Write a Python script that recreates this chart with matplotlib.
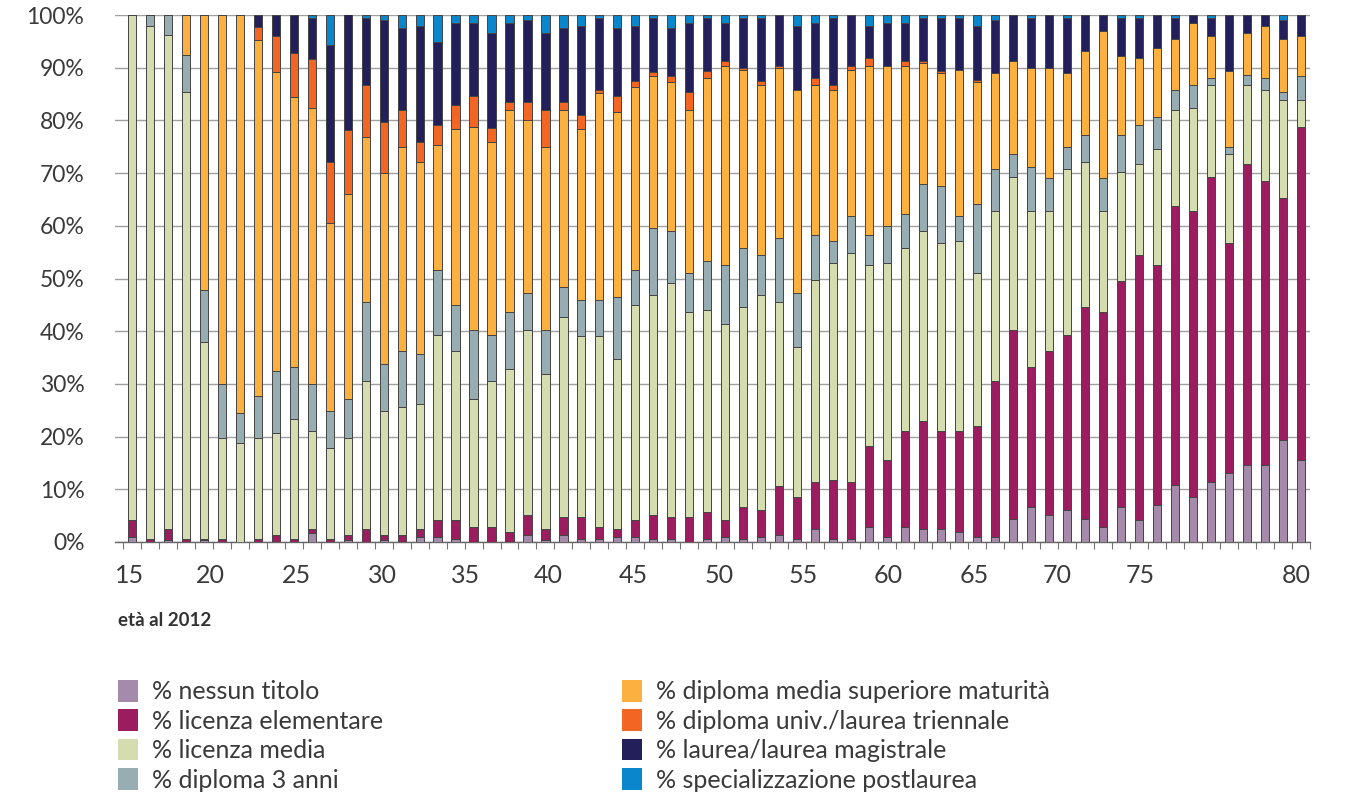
import matplotlib
matplotlib.use("Agg")
import matplotlib.pyplot as plt
from matplotlib.patches import Patch
import numpy as np

plt.rcParams['font.family'] = ['Lato', 'DejaVu Sans']

ages = list(range(15, 81))

nessun = [1.0, 0, 0.3, 0, 0.3, 0, 0, 0, 0, 0,
          1.8, 0, 0.3, 0, 0.3, 0, 1.0, 1.0, 0.5, 0,
          0, 0, 1.4, 0.3, 1.4, 0.5, 0.5, 1.0, 1.0, 0.5,
          0.5, 0, 0.5, 1.0, 0.5, 1.0, 1.3, 0.5, 2.4, 0.5,
          0.5, 2.9, 1.0, 2.9, 2.4, 2.4, 1.9, 1.0, 1.0, 4.3,
          6.6, 5.2, 6.0, 4.3, 2.9, 6.6, 4.2, 7.0, 10.8, 8.5,
          11.3, 13.1, 14.6, 14.6, 19.3, 15.5]
elementare = [3.2, 0.5, 2.1, 0.5, 0.2, 0.5, 0, 0.5, 1.4, 0.5,
              0.6, 0.5, 1.1, 2.4, 1.1, 1.4, 1.4, 3.2, 3.7, 2.9,
              2.9, 1.9, 3.8, 2.1, 3.3, 4.2, 2.4, 1.4, 3.2, 4.7,
              4.2, 4.7, 5.1, 3.2, 6.1, 5.0, 9.3, 8.0, 8.9, 11.2,
              10.8, 15.4, 14.5, 18.2, 20.6, 18.7, 19.2, 21.1, 29.5, 36.0,
              26.6, 31.0, 33.3, 40.2, 40.7, 43.0, 50.2, 45.6, 52.9, 54.3,
              58.0, 43.6, 57.1, 53.9, 45.9, 63.2]
media = [95.8, 97.5, 93.8, 84.9, 37.5, 19.2, 18.8, 19.2, 19.3, 22.9,
         18.6, 17.3, 18.3, 28.1, 23.5, 24.3, 23.8, 35.1, 32.0, 24.3,
         27.6, 30.9, 35.1, 29.4, 37.9, 34.3, 36.1, 32.4, 40.8, 41.7,
         44.5, 38.9, 38.5, 37.1, 37.9, 40.9, 34.9, 28.5, 38.5, 41.2,
         43.5, 34.3, 37.4, 34.6, 36.0, 35.6, 36.1, 29.0, 32.3, 29.0,
         29.6, 26.6, 31.5, 27.6, 19.2, 20.6, 17.3, 22.0, 18.3, 19.6,
         17.4, 16.9, 15.0, 17.2, 18.7, 5.2]
diploma3 = [0, 2.0, 3.8, 7.0, 9.8, 10.3, 5.6, 8.0, 11.7, 9.8,
            9.0, 7.1, 7.5, 15.1, 8.9, 10.5, 9.5, 12.3, 8.8, 13.1,
            8.8, 10.8, 7.0, 8.5, 5.7, 7.0, 7.0, 11.6, 6.6, 12.6,
            9.8, 7.5, 9.3, 11.3, 11.2, 7.5, 12.1, 10.3, 8.4, 4.3,
            7.1, 5.6, 7.1, 6.6, 9.0, 10.8, 4.7, 13.1, 8.0, 4.3,
            8.3, 6.2, 4.2, 5.2, 6.2, 7.1, 7.4, 6.0, 3.7, 4.3,
            1.4, 1.4, 2.0, 2.4, 1.5, 4.6]
maturita = [0, 0, 0, 7.6, 52.2, 70.0, 75.6, 67.5, 56.7, 51.2,
            52.4, 35.6, 38.8, 31.3, 36.2, 38.8, 36.4, 23.8, 33.4, 38.5,
            36.6, 38.4, 32.8, 34.7, 33.7, 32.4, 39.2, 35.2, 34.8, 29.0,
            28.2, 30.9, 34.7, 37.8, 33.8, 32.3, 32.4, 38.4, 28.5, 28.5,
            27.6, 32.2, 30.4, 28.1, 22.9, 21.5, 27.6, 23.1, 18.2, 17.7,
            18.9, 21.0, 14.0, 15.9, 28.0, 15.0, 12.7, 13.1, 9.8, 11.8,
            8.0, 14.4, 7.8, 9.9, 10.1, 7.6]
triennale = [0, 0, 0, 0, 0, 0, 0, 2.6, 7.0, 8.4,
             9.3, 11.6, 12.2, 9.8, 9.7, 7.0, 3.8, 3.7, 4.5, 5.9,
             2.7, 1.4, 3.3, 7.0, 1.4, 2.7, 0.5, 3.1, 1.1, 0.6,
             1.3, 3.4, 1.3, 0.9, 0.5, 0.8, 0.3, 0, 1.4, 1.0,
             0.9, 1.4, 0, 0.9, 0.4, 0.4, 0, 0.4, 0, 0,
             0, 0, 0, 0, 0, 0, 0, 0, 0, 0,
             0, 0, 0, 0, 0, 0]
laurea = [0, 0, 0, 0, 0, 0, 0, 2.2, 3.9, 7.2,
          7.8, 22.3, 22.3, 12.8, 19.3, 15.6, 22.1, 15.8, 15.6, 13.8,
          17.9, 15.1, 15.6, 14.5, 14.2, 16.9, 13.8, 12.9, 10.5, 10.4,
          9.1, 13.1, 10.1, 7.2, 9.5, 12.0, 9.7, 12.3, 10.4, 12.8,
          9.6, 6.2, 8.1, 7.2, 8.2, 10.1, 10.0, 10.3, 10.0, 8.7,
          9.5, 10.0, 10.5, 6.8, 3.0, 7.2, 7.7, 6.3, 4.0, 1.5,
          3.4, 10.6, 3.5, 2.0, 3.5, 3.9]
postlaurea = [0, 0, 0, 0, 0, 0, 0, 0, 0, 0,
              0.5, 5.6, 0, 0.5, 1.0, 2.4, 2.0, 5.1, 1.5, 1.5,
              3.5, 1.5, 1.0, 3.5, 2.4, 2.0, 0.5, 2.4, 2.0, 0.5,
              2.4, 1.5, 0.5, 1.5, 0.5, 0.5, 0.5, 2.0, 1.5, 0.5,
              0.5, 2.0, 1.5, 1.5, 0.5, 0.5, 0.5, 2.0, 1.0, 0,
              0.5, 0, 0.5, 0.5, 0, 0.5, 0.5, 0, 0.5, 0,
              0.5, 0, 0, 0, 1.0, 0]

series_labels = ['% nessun titolo', '% licenza elementare', '% licenza media',
                 '% diploma 3 anni', '% diploma media superiore maturità',
                 '% diploma univ./laurea triennale', '% laurea/laurea magistrale',
                 '% specializzazione postlaurea']
series = [nessun, elementare, media, diploma3, maturita, triennale, laurea, postlaurea]
colors = ['#a68aab', '#9c1c60', '#d4dcb0', '#97adb2', '#fbb040',
          '#f26522', '#221f5a', '#0a87cc']

xtick_labels = ['15', '20', '25', '30', '35', '40', '45', '50', '55', '60',
                '65', '70', '75', '80']
# label positions (layout, in category index units)
xtick_pos = [-0.15, 4.35, 9.18, 13.95, 18.56, 23.17, 27.88, 32.65, 37.35,
             42.04, 46.81, 51.42, 56.08, 64.74]
ytick_vals = list(range(0, 101, 10))

W, H = 1358, 793
fig = plt.figure(figsize=(W / 100, H / 100), dpi=100)
ax = fig.add_axes([115 / W, 1 - 542 / H, (1310 - 115) / W, (542 - 15) / H])

x = np.arange(len(ages))
bottom = np.zeros(len(ages))
for vals, col, lab in zip(series, colors, series_labels):
    v = np.array(vals, dtype=float)
    ax.bar(x, v, bottom=bottom, width=0.45, color=col, edgecolor='#444444',
           linewidth=0.7, label=lab, zorder=3)
    bottom += v

ax.set_xlim(-0.93, 65.5)
ax.set_ylim(0, 100)
ax.set_yticks(ytick_vals)
ax.set_yticklabels([f'{v}%' for v in ytick_vals], fontsize=16.5, color='#3a3a3a')
ax.tick_params(axis='y', length=0, pad=22)
ax.yaxis.grid(True, color='#a0a0a0', linewidth=1.0, zorder=0)
ax.set_axisbelow(True)

ax.set_xticks(xtick_pos)
ax.set_xticklabels(xtick_labels, fontsize=18, color='#3a3a3a')
ax.tick_params(axis='x', which='major', length=0, pad=16)
ax.set_xticks(np.arange(-0.5, len(ages), 1.0), minor=True)
ax.tick_params(axis='x', which='minor', length=5, color='#777777', width=0.8)

for s in ['left', 'right', 'top']:
    ax.spines[s].set_visible(False)
ax.spines['bottom'].set_color('#666666')
ax.spines['bottom'].set_linewidth(1.0)

fig.text(118 / W, 1 - 621 / H, 'età al 2012', fontsize=13.5, fontweight='bold',
         color='#333333', ha='left', va='center')

handles = [Patch(facecolor=c, edgecolor='none') for c in colors]
common = dict(frameon=False, fontsize=18, handlelength=0.8, handleheight=0.95,
              handletextpad=0.55, labelspacing=0.24, borderaxespad=0, borderpad=0,
              labelcolor='#3a3a3a')
leg1 = fig.legend(handles[:4], series_labels[:4], loc='upper left',
                  bbox_to_anchor=(118 / W, 1 - 680 / H), **common)
leg2 = fig.legend(handles[4:], series_labels[4:], loc='upper left',
                  bbox_to_anchor=(622 / W, 1 - 680 / H), **common)

fig.savefig('out.png', dpi=100)
